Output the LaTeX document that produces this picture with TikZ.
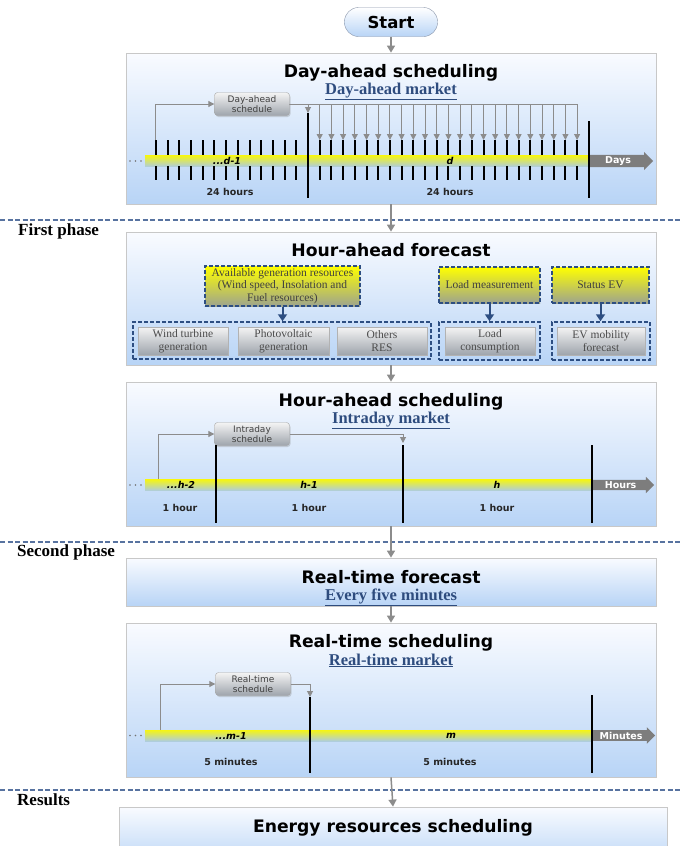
\documentclass[tikz,border=0pt]{standalone}
\usepackage{fontspec}
\setmainfont{Liberation Serif}
\newfontfamily\vsans{DejaVu Sans}
\usetikzlibrary{arrows.meta,shapes.arrows,shadows}
\definecolor{panelTop}{RGB}{249,251,255}
\definecolor{panelBot}{RGB}{184,212,246}
\definecolor{panelLine}{RGB}{200,200,200}
\definecolor{marketBlue}{RGB}{46,76,126}
\definecolor{linkGray}{RGB}{140,140,140}
\definecolor{phaseBlue}{RGB}{88,115,160}
\definecolor{dashBlue}{RGB}{45,78,130}
\definecolor{barYellow}{RGB}{245,245,20}
\definecolor{barBlue}{RGB}{175,205,220}
\definecolor{inYellow}{RGB}{255,255,0}
\definecolor{inOlive}{RGB}{158,164,142}
\definecolor{boxTop}{RGB}{244,244,244}
\definecolor{boxBot}{RGB}{158,164,172}
\definecolor{arrGray}{RGB}{125,125,125}
\begin{document}
\begin{tikzpicture}[x=1pt,y=-1pt,
  panel/.style={draw=panelLine,line width=0.8pt,top color=panelTop,bottom color=panelBot,minimum width=530pt,inner sep=0pt},
  startnode/.style={draw=panelLine!60!marketBlue,rounded corners=14pt,top color=white,bottom color=panelBot,minimum width=93pt,minimum height=29pt,inner sep=0pt,font=\vsans\bfseries\fontsize{16.5}{19}\selectfont},
  title/.style={inner sep=0pt,text height=12pt,text depth=2.5pt,font=\vsans\bfseries\fontsize{17.2}{20}\selectfont},
  market/.style={inner sep=0pt,text height=11pt,text depth=3pt,text=marketBlue,font=\bfseries\fontsize{16.5}{19}\selectfont},
  phase/.style={draw=phaseBlue,line width=1.3pt,dash pattern=on 5pt off 2.5pt},
  phaselbl/.style={anchor=west,inner sep=0pt,font=\bfseries\fontsize{17}{20}\selectfont},
  flow/.style={draw=linkGray,line width=1.5pt,-{Triangle[length=7pt,width=8pt]}},
  link/.style={draw=linkGray,line width=1pt,-{Triangle[length=6pt,width=6pt]}},
  sched/.style={draw=gray!70,rounded corners=3pt,top color=boxTop,bottom color=boxBot,minimum width=75pt,minimum height=23pt,inner sep=0pt,align=center,text=black!75,font=\vsans\fontsize{9}{10.5}\selectfont,drop shadow={shadow xshift=1pt,shadow yshift=-1.5pt,opacity=0.3}},
  bar/.style={anchor=west,top color=barYellow,middle color=barYellow,bottom color=barBlue,minimum height=11pt,inner sep=0pt},
  timearr/.style={anchor=west,single arrow,single arrow head extend=3pt,fill=arrGray,inner sep=1.5pt,text=white,font=\vsans\bfseries\fontsize{9.5}{11}\selectfont},
  tick/.style={line width=2pt,black},
  lbl/.style={inner sep=0pt,font=\vsans\bfseries\itshape\fontsize{9.5}{11}\selectfont},
  span/.style={inner sep=0pt,text=black!85,font=\vsans\bfseries\fontsize{9.5}{11}\selectfont},
  inbox/.style={draw=dashBlue,line width=1.5pt,dash pattern=on 4pt off 2pt,top color=inYellow,bottom color=inOlive,align=center,inner sep=0pt,text=black!75,font=\fontsize{11.5}{12.5}\selectfont},
  group/.style={draw=dashBlue,line width=1.5pt,dash pattern=on 4pt off 2pt,inner sep=0pt},
  comp/.style={draw=gray!60,top color=boxTop,bottom color=boxBot,minimum height=28pt,inner sep=0pt,align=center,text=black!70,font=\fontsize{11.5}{12.5}\selectfont,drop shadow={shadow xshift=1pt,shadow yshift=-1pt,opacity=0.4}},
  feed/.style={draw=dashBlue,line width=2pt,-{Triangle[length=7pt,width=9pt]}}]
\useasboundingbox (0,0) rectangle (680,846);
\fill[white] (0,0) rectangle (680,846);
\draw (391,22) node[startnode] (start) {Start};
\draw (391,128.5) node[panel,minimum height=151pt] (dayahead) {};
\draw (391,73) node[title] (datitle) {Day-ahead scheduling};
\draw (391,90.5) node[market] (damarket) {\underline{Day-ahead market}};
\draw (252,104) node[sched] (dsched) {Day-ahead\\schedule};
\draw (145,161) node[bar,minimum width=444pt] (dbar) {};
\draw (589,161) node[timearr,minimum height=64pt] (days) {Days};
\foreach \dx in {130,135.5,141} \fill[black!55] (\dx,161) circle[radius=0.9pt];
\foreach \k in {1,...,13}
  \draw[tick] ({308-\k*11.7},140) -- ++(0,15) ({308-\k*11.7},166) -- ++(0,14);
\foreach \k in {1,...,23} {
  \draw[tick] ({308+\k*11.7},140) -- ++(0,15) ({308+\k*11.7},166) -- ++(0,14);
  \coordinate (dt\k) at ({308+\k*11.7},140);
  \draw[link] (dsched.east) -| (dt\k);
}
\coordinate (dfirst) at (155.9,140);
\coordinate (dbound) at (308,113);
\draw[link] (dfirst) |- (dsched.west);
\draw[link] (dsched.east) -| (dbound);
\draw[tick] (308,113) -- (308,198);
\draw[tick] (589,121) -- (589,198);
\draw (227,161) node[lbl] (dprev) {...d-1};
\draw (450,161) node[lbl] (dcur) {d};
\draw (230,192) node[span] (dspan1) {24 hours};
\draw (450,192) node[span] (dspan2) {24 hours};
\draw[phase] (0,220) -- (680,220);
\draw (18,231) node[phaselbl] (first) {First phase};
\draw (391,298.5) node[panel,minimum height=133pt] (hourfc) {};
\draw (391,252) node[title] (hftitle) {Hour-ahead forecast};
\draw (282.5,286) node[inbox,minimum width=155pt,minimum height=40pt] (avail) {Available generation resources\\(Wind speed, Insolation and\\Fuel resources)};
\draw (489.5,285) node[inbox,minimum width=101pt,minimum height=36pt] (loadm) {Load measurement};
\draw (600.5,285) node[inbox,minimum width=97pt,minimum height=36pt] (status) {Status EV};
\draw (282,340.5) node[group,minimum width=298pt,minimum height=37pt] (gres) {};
\draw (489.5,341) node[group,minimum width=101pt,minimum height=38pt] (gload) {};
\draw (601,341) node[group,minimum width=98pt,minimum height=38pt] (gev) {};
\draw (183,341) node[comp,minimum width=90pt] (wind) {Wind turbine\\generation};
\draw (283.5,341) node[comp,minimum width=91pt] (pv) {Photovoltaic\\generation};
\draw (382,341) node[comp,minimum width=90pt] (others) {Others\\RES};
\draw (490,341) node[comp,minimum width=90pt] (loadc) {Load\\consumption};
\draw (601,341) node[comp,minimum width=88pt] (evm) {EV mobility\\forecast};
\draw[feed] (avail.south) -- (avail.south |- gres.north);
\draw[feed] (loadm.south) -- (loadm.south |- gload.north);
\draw[feed] (status.south) -- (status.south |- gev.north);
\draw (391,454) node[panel,minimum height=144pt] (hourahead) {};
\draw (391,402) node[title] (hatitle) {Hour-ahead scheduling};
\draw (391,419.5) node[market] (hamarket) {\underline{Intraday market}};
\draw (252,434) node[sched] (hsched) {Intraday\\schedule};
\draw (145,485) node[bar,minimum width=447pt] (hbar) {};
\draw (592,485) node[timearr,minimum height=62pt] (hours) {Hours};
\foreach \dx in {130,135.5,141} \fill[black!55] (\dx,485) circle[radius=0.9pt];
\coordinate (hfirst) at (158,479);
\coordinate (hbound) at (403,443);
\draw[link] (hfirst) |- (hsched.west);
\draw[link] (hsched.east) -| (hbound);
\draw[tick] (216,445) -- (216,523);
\draw[tick] (403,445) -- (403,523);
\draw[tick] (592,445) -- (592,523);
\draw (181,485) node[lbl] (hprev2) {...h-2};
\draw (309,485) node[lbl] (hprev) {h-1};
\draw (497,485) node[lbl] (hcur) {h};
\draw (180,508) node[span] (hspan1) {1 hour};
\draw (309,508) node[span] (hspan2) {1 hour};
\draw (497,508) node[span] (hspan3) {1 hour};
\draw[phase] (0,542) -- (680,542);
\draw (17,552) node[phaselbl] (second) {Second phase};
\draw (391,582) node[panel,minimum height=48pt] (rtfc) {};
\draw (391,578.5) node[title] (rftitle) {Real-time forecast};
\draw (391,596.5) node[market] (rfmarket) {\underline{Every five minutes}};
\draw (391,700) node[panel,minimum height=154pt] (rtsched) {};
\draw (391,643) node[title] (rstitle) {Real-time scheduling};
\draw (391,661) node[market] (rsmarket) {\underline{Real-time market}};
\draw (253,684) node[sched] (rsched) {Real-time\\schedule};
\draw (145,735.5) node[bar,minimum width=447pt] (mbar) {};
\draw (592,735.5) node[timearr,minimum height=63pt] (minutes) {Minutes};
\foreach \dx in {130,135.5,141} \fill[black!55] (\dx,735.5) circle[radius=0.9pt];
\coordinate (mfirst) at (160,730);
\coordinate (mbound) at (310,697);
\draw[link] (mfirst) |- (rsched.west);
\draw[link] (rsched.east) -| (mbound);
\draw[tick] (310,697) -- (310,773);
\draw[tick] (592,695) -- (592,773);
\draw (231,736) node[lbl] (mprev) {...m-1};
\draw (451,736) node[lbl] (mcur) {m};
\draw (231,762) node[span] (mspan1) {5 minutes};
\draw (450,762) node[span] (mspan2) {5 minutes};
\draw[phase] (0,790) -- (680,790);
\draw (17,800) node[phaselbl] (results) {Results};
\draw (393,837) node[panel,minimum width=548pt,minimum height=60pt] (result) {};
\draw (393,828) node[title] (restitle) {Energy resources scheduling};
\draw[flow] (start.south) -- (dayahead.north);
\draw[flow] (dayahead.south) -- (hourfc.north);
\draw[flow] (hourfc.south) -- (hourahead.north);
\draw[flow] (hourahead.south) -- (rtfc.north);
\draw[flow] (rtfc.south) -- (rtsched.north);
\draw[flow] (rtsched.south) -- (result.north);
\end{tikzpicture}
\end{document}
